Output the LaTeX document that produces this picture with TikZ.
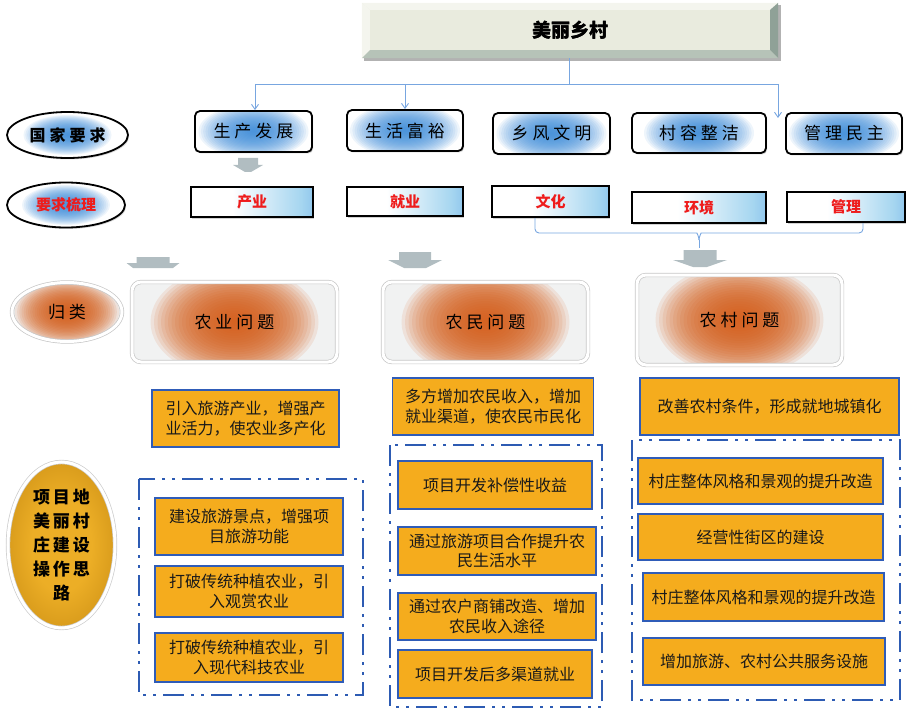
\documentclass[tikz,border=0pt]{standalone}
\usepackage{fontspec}
\setmainfont{Noto Sans CJK SC}
\usetikzlibrary{arrows.meta,shapes.geometric,shadows}
\definecolor{lineblue}{HTML}{78A6E0}
\definecolor{bglow}{HTML}{3A8CDB}
\definecolor{lblue}{HTML}{A6D6F0}
\definecolor{sblue}{HTML}{2E80DE}
\definecolor{orng}{HTML}{D65E1A}
\definecolor{qgray}{HTML}{F1F2F2}
\definecolor{gold1}{HTML}{ECAE26}
\definecolor{gold2}{HTML}{D99C1C}
\definecolor{boxorange}{HTML}{F5AC1D}
\definecolor{boxblue}{HTML}{2F5CB8}
\definecolor{frameblue}{HTML}{2D5BB3}
\definecolor{arrgray}{HTML}{B1BDC1}
\definecolor{redtxt}{HTML}{EE1C1C}
\definecolor{titleface}{HTML}{E9EBDE}
\definecolor{bevbot}{HTML}{B6C3B8}
\definecolor{bevright}{HTML}{8FA197}
\definecolor{bevlight}{HTML}{F4F5EE}
\pgfdeclarehorizontalshading{whiteblue}{100bp}{color(0bp)=(white); color(42bp)=(white); color(70bp)=(lblue); color(100bp)=(sblue)}
\pgfdeclareradialshading{goldglow}{\pgfpoint{0bp}{0bp}}{color(0bp)=(gold1); color(14bp)=(gold1); color(25bp)=(gold2); color(50bp)=(gold2)}
\newcommand\kgap{\hspace{4pt}}
\newcommand\garrow[7]{\fill[garrowc] (#1-#3,#2) -- (#1+#3,#2) -- (#1+#3,#4) -- (#1+#5,#4) -- (#1+#7,#6) -- (#1-#7,#6) -- (#1-#5,#4) -- (#1-#3,#4) -- cycle;}
\begin{document}
\begin{tikzpicture}[x=1pt,y=-1pt,
  conn/.style={draw=lineblue, line width=0.9pt},
  tipb/.style={-{Straight Barb[length=5pt,width=7pt]}},
  bglowpic/.style 2 args={path picture={\foreach \k in {1,...,24} \fill[bglow, fill opacity=0.085] (path picture bounding box.center) ellipse [x radius=#1*\k/24, y radius=#2*\k/24];}},
  oglowpic/.style 2 args={path picture={\foreach \k in {1,...,24} \fill[orng, fill opacity=0.11] (path picture bounding box.center) ellipse [x radius=#1*\k/24, y radius=#2*\k/24];}},
  kbox/.style={rectangle, rounded corners=5pt, draw=black, line width=1.8pt, fill=white, bglowpic={55pt}{27pt}, inner sep=0pt, font=\fontsize{17}{19}\selectfont, drop shadow={shadow xshift=1.2pt, shadow yshift=-1.5pt, opacity=0.35}},
  kell/.style={ellipse, draw=black, line width=1.8pt, fill=white, bglowpic={44pt}{20pt}, inner sep=0pt, drop shadow={shadow xshift=1.2pt, shadow yshift=-1.5pt, opacity=0.3}},
  rbox/.style={rectangle, draw=black, line width=2pt, shading=whiteblue, text=redtxt, inner sep=0pt, font=\bfseries\fontsize{15}{17}\selectfont, drop shadow={shadow xshift=1.2pt, shadow yshift=-1.5pt, opacity=0.35}},
  qbox/.style={rectangle, rounded corners=9pt, draw=gray!45, double=white, double distance=3pt, line width=0.7pt, fill=qgray, oglowpic={84pt}{56pt}, inner sep=0pt, font=\fontsize{17}{19}\selectfont},
  qell/.style={ellipse, draw=gray!45, double=white, double distance=3pt, line width=0.7pt, fill=qgray, oglowpic={52pt}{32pt}, inner sep=0pt, font=\fontsize{17}{19}\selectfont},
  gell/.style={ellipse, draw=gray!40, double=white, double distance=3pt, line width=0.7pt, shading=goldglow, inner sep=0pt, align=center, font=\bfseries\fontsize{17}{24}\selectfont},
  obox/.style={rectangle, draw=boxblue, line width=1.8pt, fill=boxorange, inner sep=0pt, align=center, font=\fontsize{16}{19.5}\selectfont, text=black!90},
  dframe/.style={draw=frameblue, line width=2.6pt, dash pattern=on 21pt off 7pt on 3pt off 7pt on 3pt off 7pt},
  garrowc/.style={fill=arrgray}
]
\useasboundingbox (0,0) rectangle (915,714);
% title
\fill[black!30] (364,5) rectangle (781,61);
\node[rectangle, fill=titleface, minimum width=416pt, minimum height=55pt, inner sep=0pt, font=\bfseries\fontsize{19}{21}\selectfont] (title) at (570,30.5) {美丽乡村};
\fill[bevlight] (title.north west) -- (title.north east) -- ([xshift=-8pt,yshift=-7pt]title.north east) -- ([xshift=8pt,yshift=-7pt]title.north west) -- cycle;
\fill[bevlight] (title.north west) -- (title.south west) -- ([xshift=8pt,yshift=8pt]title.south west) -- ([xshift=8pt,yshift=-7pt]title.north west) -- cycle;
\fill[bevbot] (title.south west) -- (title.south east) -- ([xshift=-8pt,yshift=8pt]title.south east) -- ([xshift=8pt,yshift=8pt]title.south west) -- cycle;
\fill[bevright] (title.north east) -- (title.south east) -- ([xshift=-8pt,yshift=8pt]title.south east) -- ([xshift=-8pt,yshift=-7pt]title.north east) -- cycle;
\node[font=\bfseries\fontsize{19}{21}\selectfont] at (title.center) {美丽乡村};

% row 1
\node[kell, minimum width=121pt, minimum height=46pt, font=\bfseries\fontsize{16}{18}\selectfont] (e1) at (67.5,135) {国\kgap 家\kgap 要\kgap 求};
\node[kbox, minimum width=117pt, minimum height=41pt] (n1) at (253.5,131.5) {生\kgap 产\kgap 发\kgap 展};
\node[kbox, minimum width=116pt, minimum height=41pt] (n2) at (405,130.5) {生\kgap 活\kgap 富\kgap 裕};
\node[kbox, minimum width=117pt, minimum height=41pt] (n3) at (551.5,133.5) {乡\kgap 风\kgap 文\kgap 明};
\node[kbox, minimum width=134pt, minimum height=40pt] (n4) at (699,133) {村\kgap 容\kgap 整\kgap 洁};
\node[kbox, minimum width=116pt, minimum height=41pt] (n5) at (844,133.5) {管\kgap 理\kgap 民\kgap 主};

% connectors from title
\coordinate (j0) at (569,84);
\coordinate (jl) at (255,84);
\coordinate (j2) at (405,84);
\coordinate (jr) at (778,84);
\coordinate (jend) at (778,118);
\draw[conn] (title.south -| j0) -- (j0);
\draw[conn] (jl) -- (jr);
\draw[conn, tipb] (jl) -- (jl |- n1.north);
\draw[conn, tipb] (j2) -- (j2 |- n2.north);
\draw[conn, tipb] (jr) -- (jend);

% small gray arrow
\garrow{248}{158}{10}{165}{15}{172}{3}

% row 2
\node[kell, minimum width=118pt, minimum height=45pt, text=redtxt, font=\bfseries\fontsize{15}{17}\selectfont] (e2) at (66,205) {要求梳理};
\node[rbox, minimum width=122pt, minimum height=30pt] (r1) at (252,202) {产业};
\node[rbox, minimum width=116pt, minimum height=29pt] (r2) at (405,201.5) {就业};
\node[rbox, minimum width=117pt, minimum height=31pt] (r3) at (550.5,201.5) {文化};
\node[rbox, minimum width=134pt, minimum height=31pt] (r4) at (699,207.5) {环境};
\node[rbox, minimum width=118pt, minimum height=30pt] (r5) at (846,207) {管理};

% brace
\coordinate (bl) at (535,233);
\coordinate (br) at (863,233);
\coordinate (bm) at (699,240);
\coordinate (bt) at (699,248);
\draw[conn, rounded corners=4pt] (r3.south -| bl) -- (bl) -- (693,233) to[out=0,in=90] (bm);
\draw[conn, rounded corners=4pt] (r5.south -| br) -- (br) -- (705,233) to[out=180,in=90] (bm);
\draw[conn] (bm) -- (bt);

% gray arrows
\garrow{153}{257}{16.5}{263}{26.5}{268}{20}
\garrow{415}{252}{16}{260}{27}{268}{11}
\garrow{700}{250}{16.5}{260}{27}{267}{7}

% row 3
\node[qell, minimum width=110pt, minimum height=59pt] (e3) at (67,312) {归\kgap 类};
\node[qbox, minimum width=205pt, minimum height=80pt] (q1) at (234.5,322) {农\kgap 业\kgap 问\kgap 题};
\node[qbox, minimum width=205pt, minimum height=80pt] (q2) at (485.5,322) {农\kgap 民\kgap 问\kgap 题};
\node[qbox, minimum width=205pt, minimum height=90pt] (q3) at (739.5,320) {农\kgap 村\kgap 问\kgap 题};

% row 4
\node[obox, minimum width=187pt, minimum height=57pt] (t1) at (245.5,418.5) {引入旅游产业，增强产\\业活力，使农业多产化};
\node[obox, minimum width=201pt, minimum height=57pt] (t2) at (493,406.5) {多方增加农民收入，增加\\就业渠道，使农民市民化};
\node[obox, minimum width=259pt, minimum height=57pt] (t3) at (769.5,406.5) {改善农村条件，形成就地城镇化};

% oval
\node[gell, minimum width=107pt, minimum height=166pt] (e4) at (61.5,545) {项\hspace{3pt}目\hspace{3pt}地\\美\hspace{3pt}丽\hspace{3pt}村\\庄\hspace{3pt}建\hspace{3pt}设\\操\hspace{3pt}作\hspace{3pt}思\\路};

% frames
\draw[dframe] (139,479) rectangle (363,695);
\draw[dframe] (390,445) rectangle (602,707);
\draw[dframe] (632,440) rectangle (900,700);

% left column
\node[obox, minimum width=188pt, minimum height=57pt] (L1) at (249,526.5) {建设旅游景点，增强项\\目旅游功能};
\node[obox, minimum width=188pt, minimum height=51pt] (L2) at (249,591.5) {打破传统种植农业，引\\入观赏农业};
\node[obox, minimum width=188pt, minimum height=49pt] (L3) at (249,657.5) {打破传统种植农业，引\\入现代科技农业};

% middle column
\node[obox, minimum width=194pt, minimum height=48pt] (M1) at (495,485) {项目开发补偿性收益};
\node[obox, minimum width=198pt, minimum height=48pt] (M2) at (497,551) {通过旅游项目合作提升农\\民生活水平};
\node[obox, minimum width=198pt, minimum height=47pt] (M3) at (497,616.5) {通过农户商铺改造、增加\\农民收入途径};
\node[obox, minimum width=194pt, minimum height=48pt] (M4) at (495,674) {项目开发后多渠道就业};

% right column
\node[obox, minimum width=245pt, minimum height=46pt] (R1) at (760.5,481) {村庄整体风格和景观的提升改造};
\node[obox, minimum width=245pt, minimum height=46pt] (R2) at (760.5,537) {经营性街区的建设};
\node[obox, minimum width=241pt, minimum height=48pt] (R3) at (763.5,597) {村庄整体风格和景观的提升改造};
\node[obox, minimum width=242pt, minimum height=47pt] (R4) at (764,661.5) {增加旅游、农村公共服务设施};
\end{tikzpicture}
\end{document}
